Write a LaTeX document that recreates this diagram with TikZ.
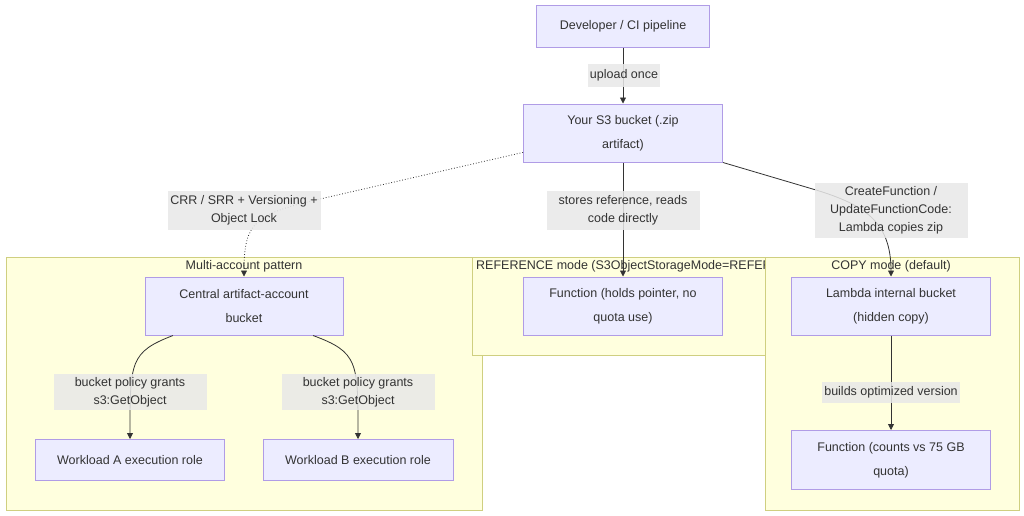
\documentclass[tikz,border=0pt]{standalone}
\usepackage{fontspec}
\setmainfont{Liberation Sans}
\usepackage{tikz}
\usetikzlibrary{positioning,arrows.meta,calc}
\definecolor{nodefill}{HTML}{ECECFF}
\definecolor{nodeline}{HTML}{B09CE6}
\definecolor{groupfill}{HTML}{FFFFDE}
\definecolor{groupline}{HTML}{CFCF80}
\definecolor{labelfill}{HTML}{E8E8E8}
\definecolor{ink}{HTML}{333333}

\begin{document}
\begin{tikzpicture}[x=1pt,y=-1pt,
  box/.style={draw=nodeline,fill=nodefill,line width=1pt,text=ink,align=center,
    inner sep=0pt,font=\fontsize{12.5}{24}\selectfont},
  group/.style={draw=groupline,fill=groupfill,line width=1pt},
  grouptitle/.style={text=ink,inner sep=0pt,font=\fontsize{12.5}{14}\selectfont},
  lbl/.style={fill=labelfill,fill opacity=0.85,text opacity=1,text=ink,align=center,
    inner sep=0pt,font=\fontsize{12.5}{18}\selectfont},
  edge/.style={draw=ink,line width=0.8pt,-{Triangle[length=6pt,width=6pt]}}]
\useasboundingbox (0,0) rectangle (1024,515);

% groups
\draw[group] (6,257) rectangle (482,510);
\node[grouptitle] (tmulti) at (244,266) {Multi-account pattern};
\draw[group] (472,257) rectangle (778,355);
\node[grouptitle,anchor=west] (tref) at (476,266) {REFERENCE mode (S3ObjectStorageMode=REFERENCE)};
\draw[group] (765,257) rectangle (1019,510);
\node[grouptitle] (tcopy) at (891,266) {COPY mode (default)};

% nodes
\node[box,minimum width=173,minimum height=42] (dev) at (623,26) {Developer / CI pipeline};
\node[box,minimum width=199,minimum height=58] (s3) at (623,133) {Your S3 bucket (.zip\\artifact)};
\node[box,minimum width=198,minimum height=58] (central) at (244,306) {Central artifact-account\\bucket};
\node[box,minimum width=189,minimum height=41] (wa) at (130,460) {Workload A execution role};
\node[box,minimum width=190,minimum height=41] (wb) at (358,460) {Workload B execution role};
\node[box,minimum width=199,minimum height=58] (fref) at (623,306) {Function (holds pointer, no\\quota use)};
\node[box,minimum width=199,minimum height=58] (lam) at (891,306) {Lambda internal bucket\\(hidden copy)};
\node[box,minimum width=199,minimum height=59] (fcopy) at (891,460) {Function (counts vs 75 GB\\quota)};

% edges
\draw[edge] (dev) -- (s3);
\draw[edge,dotted] (s3.191) -- (320,199) .. controls (255,214) and (244,222) .. (central.north);
\draw[edge] (s3) -- (fref);
\draw[edge] (s3.south east) -- (816,190) .. controls (865,205) and (891,222) .. (lam);
\draw[edge] ([xshift=-71pt]central.south) .. controls (130,352) and (130,362) .. (wa);
\draw[edge] ([xshift=69pt]central.south) .. controls (358,352) and (358,362) .. (wb);
\draw[edge] (lam) -- (fcopy);

% edge labels
\node[lbl,minimum width=72,minimum height=23] (lupload) at (624,75) {upload once};
\node[lbl,minimum width=153,minimum height=39] (lcrr) at (244,210) {CRR / SRR + Versioning +\\Object Lock};
\node[lbl,minimum width=153,minimum height=39] (lstores) at (623,210) {stores reference, reads\\code directly};
\node[lbl,minimum width=153,minimum height=55] (lcreate) at (891,210) {CreateFunction /\\UpdateFunctionCode:\\Lambda copies zip};
\node[lbl,minimum width=153,minimum height=36] (lpola) at (130,392) {bucket policy grants\\s3:GetObject};
\node[lbl,minimum width=153,minimum height=36] (lpolb) at (358,392) {bucket policy grants\\s3:GetObject};
\node[lbl,minimum width=138,minimum height=21] (lbuild) at (891,392) {builds optimized version};
\end{tikzpicture}
\end{document}
